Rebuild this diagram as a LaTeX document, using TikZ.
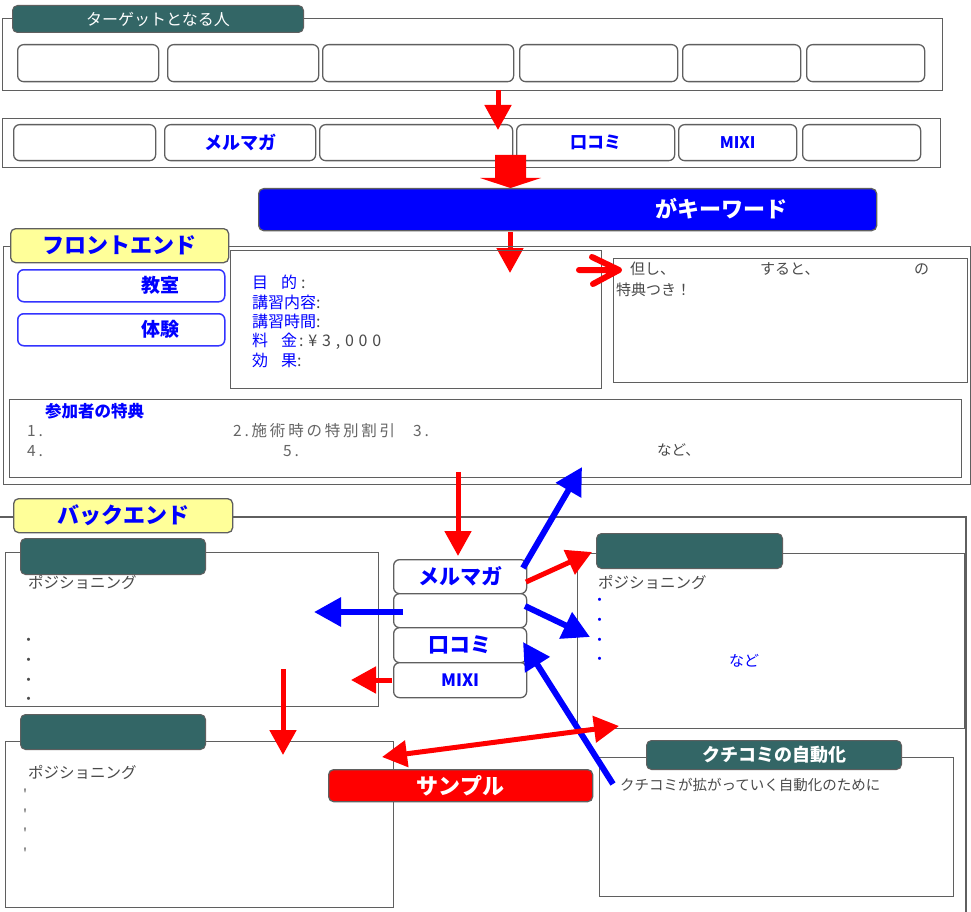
\documentclass[tikz,border=0pt]{standalone}
\usepackage{fontspec}
\setmainfont{Noto Sans CJK JP}
\newfontfamily\lsfont{Noto Sans CJK JP}[LetterSpace=18]
\newfontfamily\lsnum{Noto Sans CJK JP}[LetterSpace=30]
\usetikzlibrary{arrows.meta}
\definecolor{tealc}{HTML}{336666}
\definecolor{gline}{HTML}{5F5F5F}
\definecolor{txtc}{HTML}{4A4A4A}
\definecolor{ylw}{HTML}{FFFF99}
\definecolor{bbord}{HTML}{3333FF}
\newcommand\fs[1]{\fontsize{#1}{#1}\selectfont}
\newcommand\bxn[7]{\node[#1,anchor=north west,minimum width={#5-#3},minimum height={#6-#4}] (#2) at (#3,#4) {#7};}
\tikzset{
 fr/.style={draw=gline,line width=1.3pt,inner sep=0pt},
 rb/.style={draw=gline,line width=1.3pt,rounded corners=6pt,fill=white,inner sep=0pt},
 ttab/.style={fill=tealc,draw=gline,line width=1pt,rounded corners=5pt,text=white,inner sep=0pt},
 ytab/.style={fill=ylw,draw=gline,line width=1.3pt,rounded corners=5pt,text=blue,inner sep=0pt},
 bb/.style={draw=bbord,line width=1.5pt,rounded corners=6pt,fill=white,inner sep=0pt},
 lbl/.style={inner sep=0pt,anchor=west,text=txtc},
 ra/.style={draw=red,line width=5pt,-{Triangle[width=26pt,length=25pt]}},
 rda/.style={draw=red,line width=5pt,{Triangle[width=26pt,length=25pt]}-{Triangle[width=26pt,length=25pt]}},
 ba/.style={draw=blue,line width=6pt,-{Triangle[width=28pt,length=27pt]}},
}
\begin{document}
\begin{tikzpicture}[x=1pt,y=-1pt]
\useasboundingbox (0,0) rectangle (971,912);
\fill[white] (0,0) rectangle (971,912);

% ---------- top: target ----------
\bxn{fr}{topF}{2}{18}{942}{90}{}
\bxn{ttab}{tabT}{12}{5}{303}{32}{\fs{16}ターゲットとなる人}
\bxn{rb}{t1}{17}{44}{158}{81}{}
\bxn{rb}{t2}{167}{44}{318}{81}{}
\bxn{rb}{t3}{322}{44}{513}{81}{}
\bxn{rb}{t4}{519}{44}{677}{81}{}
\bxn{rb}{t5}{682}{44}{800}{81}{}
\bxn{rb}{t6}{806}{44}{924}{81}{}

% ---------- row 2: media ----------
\bxn{fr}{medF}{2}{118}{940}{167}{}
\bxn{rb}{r1}{13}{124}{155}{160}{}
\bxn{rb}{r2}{164}{124}{315}{160}{\fs{18}\bfseries\color{blue}メルマガ}
\bxn{rb}{r3}{319}{124}{512}{160}{}
\bxn{rb}{r4}{516}{124}{674}{160}{\fs{17}\bfseries\color{blue}口コミ}
\bxn{rb}{r5}{678}{124}{796}{160}{\fs{16}\bfseries\color{blue}MIXI}
\bxn{rb}{r6}{802}{124}{920}{160}{}

\coordinate (a1s) at (498,90);
\coordinate (a1e) at (498,130);
\draw[ra] (a1s) -- (a1e);

% block arrow
\fill[red] (495,155) -- (526,155) -- (526,178) -- (541,178) -- (510.5,188) -- (480,178) -- (495,178) -- cycle;

% keyword bar
\bxn{fr,fill=blue,rounded corners=5pt}{kw}{258}{188}{876}{230}{}
\node[text=white,font=\fs{22}\bfseries] (kwt) at (721,209) {がキーワード};

\coordinate (a3s) at (510,232);
\coordinate (a3e) at (510,273);
\draw[ra] (a3s) -- (a3e);

% ---------- front end ----------
\bxn{fr}{frontF}{3}{246}{970}{484}{}
\bxn{ytab}{tabF}{10}{228}{228}{262}{\fs{22}\bfseries フロントエンド}
\bxn{bb}{kyo}{17}{269}{224}{301}{}
\node[text=blue,font=\fs{19}\bfseries] (kyot) at (160,285) {教室};
\bxn{bb}{tai}{17}{313}{224}{345}{}
\node[text=blue,font=\fs{19}\bfseries] (tait) at (160,329) {体験};

\bxn{fr}{info}{230}{250}{601}{388}{}
\node[lbl] (i1) at (252,282) {\fs{16}\textcolor{blue}{目}\hspace{13pt}\textcolor{blue}{的}\hspace{4pt}:};
\node[lbl] (i2) at (252,302) {\fs{16}\textcolor{blue}{講習内容}:};
\node[lbl] (i3) at (252,321) {\fs{16}\textcolor{blue}{講習時間}:};
\node[lbl] (i4) at (252,341) {\fs{16}\textcolor{blue}{料}\hspace{13pt}\textcolor{blue}{金}\hspace{2pt}{\lsnum :¥3,000}};
\node[lbl] (i5) at (252,360) {\fs{16}\textcolor{blue}{効}\hspace{13pt}\textcolor{blue}{果}:};

\bxn{fr}{note}{613}{258}{967}{382}{}
\node[lbl] (n1) at (630,269) {\fs{15}但し、};
\node[lbl] (n2) at (760,269) {\fs{15}すると、};
\node[lbl] (n3) at (914,269) {\fs{15}の};
\node[lbl] (n4) at (616,290) {\fs{15}特典つき！};

\coordinate (chS) at (579,270);
\coordinate (chT) at (619,270);
\draw[red,line width=6pt,line cap=round,line join=round] (chS) -- (chT) ++(-27,-13) -- (chT) -- ++(-26,14);

\bxn{fr}{perk}{9}{399}{961}{477}{}
\node[lbl,text=blue,font=\fs{16.5}\bfseries] (pk) at (45,411) {参加者の特典};
\node[lbl,text=txtc!85] (p1) at (27,431) {\fs{15.5}\lsfont 1.};
\node[lbl,text=txtc!85] (p2) at (233,431) {\fs{15.5}\lsfont 2.施術時の特別割引};
\node[lbl,text=txtc!85] (p3) at (413,431) {\fs{15.5}\lsfont 3.};
\node[lbl,text=txtc!85] (p4) at (27,451) {\fs{15.5}\lsfont 4.};
\node[lbl,text=txtc!85] (p5) at (283,451) {\fs{15.5}\lsfont 5.};
\node[lbl] (p6) at (657,450) {\fs{14.5}など、};

% ---------- back end ----------
\draw[fr] (0,517) -- (966,517) -- (966,912);
\bxn{ytab}{tabB}{13}{498}{232}{532}{\fs{22}\bfseries バックエンド}

\bxn{fr}{lb1}{5}{552}{378}{706}{}
\bxn{ttab}{lt1}{20}{538}{205}{574}{}
\node[lbl] (lp1) at (28,582) {\fs{15.5}ポジショニング};
\foreach \yy/\nm in {642/d1,662/d2,682/d3,701/d4}
  \node[lbl] (\nm) at (21,\yy) {\fs{15}・};

\bxn{fr}{rbx}{577}{553}{964}{728}{}
\bxn{ttab}{rt1}{596}{533}{782}{568}{}
\node[lbl] (rp1) at (598,582) {\fs{15.5}ポジショニング};
\foreach \yy/\nm in {602/e1,622/e2,642/e3,661/e4}
  \node[lbl,text=blue] (\nm) at (592,\yy) {\fs{15}・};
\node[lbl,text=blue] (nado) at (729,661) {\fs{15}など};

\bxn{fr}{lb2}{5}{741}{393}{907}{}
\bxn{ttab}{lt2}{20}{714}{205}{749}{}
\node[lbl] (lp2) at (28,772) {\fs{15.5}ポジショニング};
\foreach \yy/\nm in {794/f1,814/f2,833/f3,853/f4}
  \node[lbl,text=txtc] (\nm) at (19,\yy) {\fs{12}＇};

\bxn{fr}{rb2}{599}{757}{953}{896}{}
\bxn{ttab}{rt2}{646}{740}{901}{769}{\fs{18}\bfseries クチコミの自動化}
\node[lbl] (kc) at (620,785) {\fs{14.5}クチコミが拡がっていく自動化のために};

\bxn{fr,fill=red,rounded corners=5pt}{smp}{328}{769}{592}{801}{\fs{22}\bfseries\color{white}サンプル}

% middle stack
\bxn{rb}{mm}{393}{559}{526}{593}{\fs{21}\bfseries\color{blue}メルマガ}
\bxn{rb}{mb}{393}{593}{526}{627}{}
\bxn{rb}{mk}{393}{627}{526}{662}{\fs{21}\bfseries\color{blue}口コミ}
\bxn{rb}{mx}{393}{662}{526}{697}{\fs{17}\bfseries\color{blue}MIXI}

% arrows
\coordinate (dmS) at (458,472);
\coordinate (dmE) at (458,556);
\draw[ra] (dmS) -- (dmE);

\coordinate (u1S) at (523,568);
\coordinate (u1E) at (582,467);
\draw[ba] (u1S) -- (u1E);

\coordinate (r1S) at (526,582);
\coordinate (r1E) at (592,552);
\draw[ra] (r1S) -- (r1E);

\coordinate (b2S) at (525,606);
\coordinate (b2E) at (590,637);
\draw[ba] (b2S) -- (b2E);

\coordinate (b3S) at (613,784);
\coordinate (b3E) at (523,642);
\draw[ba] (b3S) -- (b3E);

\coordinate (ddA) at (382,757);
\coordinate (ddB) at (619,726);
\draw[rda] (ddA) -- (ddB);

\coordinate (blS) at (403,612);
\coordinate (blE) at (314,612);
\draw[ba] (blS) -- (blE);

\coordinate (rlS) at (392,680);
\coordinate (rlE) at (351,680);
\draw[ra] (rlS) -- (rlE);

\coordinate (rdS) at (283,669);
\coordinate (rdE) at (283,755);
\draw[ra] (rdS) -- (rdE);
\end{tikzpicture}
\end{document}
